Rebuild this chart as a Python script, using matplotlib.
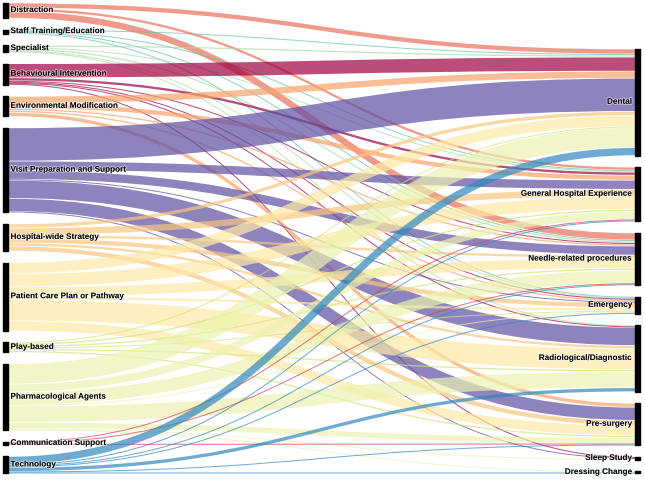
import matplotlib
matplotlib.use("Agg")
import matplotlib.pyplot as plt
from matplotlib.path import Path
from matplotlib.patches import PathPatch, Rectangle
import matplotlib.patheffects as pe

# ---------------- data ----------------
sources = ["Distraction", "Staff Training/Education", "Specialist",
           "Behavioural Intervention", "Environmental Modification",
           "Visit Preparation and Support", "Hospital-wide Strategy",
           "Patient Care Plan or Pathway", "Play-based",
           "Pharmacological Agents", "Communication Support", "Technology"]
targets = ["Dental", "General Hospital Experience", "Needle-related procedures",
           "Emergency", "Radiological/Diagnostic", "Pre-surgery",
           "Sleep Study", "Dressing Change"]

# flows into each target, one value per source (same order as `sources`)
to_dental    = [5, 1, 2, 14, 7, 33, 4, 11, 1, 20, 0, 8]
to_general   = [3, 1, 1, 3, 5, 9, 7, 13, 2, 8, 1, 1]
to_needle    = [7, 1, 2, 1, 2, 9, 3, 10, 2, 13, 1, 1]
to_emergency = [0, 1, 1, 1, 2, 1, 5, 3, 1, 1, 0, 1]
to_radiology = [0, 0, 1, 1, 0, 18, 3, 21, 2, 16, 0, 4]
to_presurg   = [0, 0, 0, 0, 4, 13, 5, 10, 2, 6, 1, 1]
to_sleep     = [0, 0, 0, 1, 0, 1, 0, 0, 0, 1, 0, 0]
to_dressing  = [0, 0, 0, 0, 0, 0, 0, 0, 0, 1, 0, 1]

source_colors = ["#e9705a", "#66c2a5", "#abdda4", "#9e0142", "#f8a269",
                 "#5e4fa2", "#f8c67e", "#fde9a6", "#cfe57a", "#ecf2b0",
                 "#d53e4f", "#3288bd"]

flows = [to_dental, to_general, to_needle, to_emergency, to_radiology,
         to_presurg, to_sleep, to_dressing]

# ---------------- layout ----------------
W, H = 645, 482
fig = plt.figure(figsize=(W / 100, H / 100), dpi=100)
ax = fig.add_axes([0, 0, 1, 1])
ax.set_xlim(0, W)
ax.set_ylim(H, 0)
ax.axis("off")

ns, nt = len(sources), len(targets)
src_val = [sum(flows[j][i] for j in range(nt)) for i in range(ns)]
tgt_val = [sum(flows[j]) for j in range(nt)]

top, bottom, pad = 3.0, 473.5, 11.5
ky = (bottom - top - pad * (ns - 1)) / sum(src_val)

src_y = []
y = top
for v in src_val:
    src_y.append(y)
    y += v * ky + pad
tot_r = sum(tgt_val) * ky + pad * (nt - 1)
tgt_y = []
y = bottom - tot_r
for v in tgt_val:
    tgt_y.append(y)
    y += v * ky + pad

xl0, xl1 = 3, 7.5
xr0, xr1 = 635, 639.5
xm = (xl1 + xr0) / 2

# links
src_off = list(src_y)
tgt_off = list(tgt_y)
link_geo = {}
for i in range(ns):
    for j in range(nt):
        v = flows[j][i]
        if v <= 0:
            continue
        w = v * ky
        link_geo[(i, j)] = [src_off[i] + w / 2, None, w]
        src_off[i] += w
for j in range(nt):
    for i in range(ns):
        if (i, j) in link_geo:
            w = link_geo[(i, j)][2]
            link_geo[(i, j)][1] = tgt_off[j] + w / 2
            tgt_off[j] += w

for i in range(ns):
    for j in range(nt):
        if (i, j) not in link_geo:
            continue
        y0, y1, w = link_geo[(i, j)]
        path = Path([(xl1, y0), (xm, y0), (xm, y1), (xr0, y1)],
                    [Path.MOVETO, Path.CURVE4, Path.CURVE4, Path.CURVE4])
        lw_px = max(1.0, w - 0.7) if w > 2 else max(1.0, w)
        ax.add_patch(PathPatch(path, facecolor="none",
                               edgecolor=source_colors[i],
                               lw=lw_px * 0.72, alpha=0.7,
                               capstyle="butt"))

# nodes
for i in range(ns):
    ax.add_patch(Rectangle((xl0, src_y[i]), xl1 - xl0, src_val[i] * ky,
                           color="black", zorder=3))
for j in range(nt):
    ax.add_patch(Rectangle((xr0, tgt_y[j]), xr1 - xr0, tgt_val[j] * ky,
                           color="black", zorder=3))

halo = [pe.withStroke(linewidth=1.2, foreground="white", alpha=0.6)]
for i in range(ns):
    ax.text(xl1 + 3, src_y[i] + src_val[i] * ky / 2, sources[i],
            ha="left", va="center", fontsize=5.9, fontweight="bold",
            family="Liberation Sans", zorder=4, path_effects=halo)
for j in range(nt):
    ax.text(xr0 - 3, tgt_y[j] + tgt_val[j] * ky / 2, targets[j],
            ha="right", va="center", fontsize=5.9, fontweight="bold",
            family="Liberation Sans", zorder=4, path_effects=halo)

fig.savefig("out.png", dpi=100)
